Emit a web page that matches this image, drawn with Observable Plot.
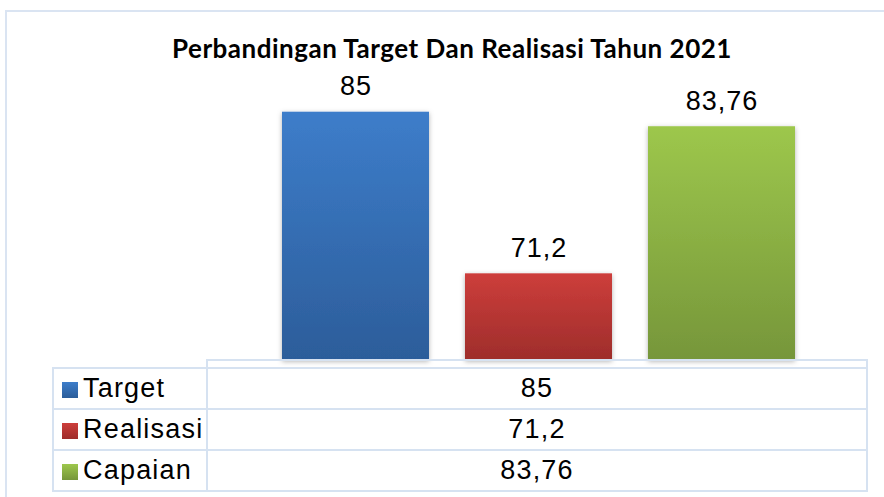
<!DOCTYPE html>
<html><head><meta charset="utf-8">
<script src="https://cdn.jsdelivr.net/npm/d3@7"></script>
<script src="https://cdn.jsdelivr.net/npm/@observablehq/plot@0.6"></script>
<style>
body{margin:0;background:#fff;width:884px;height:497px;overflow:hidden;position:relative;font-family:"Liberation Sans",Arial,sans-serif;}
#frame{position:absolute;left:5px;top:10px;width:900px;height:520px;border:2px solid #dae4f2;box-sizing:border-box;}
#title{position:absolute;left:0;width:904px;top:32px;text-align:center;font:700 26px Lato,sans-serif;letter-spacing:0.5px;color:#000;white-space:nowrap;}
#chart{position:absolute;left:0;top:0;}
#tbl{position:absolute;left:52px;top:359px;border-collapse:collapse;font:27px "Liberation Sans",Arial,sans-serif;letter-spacing:1.2px;color:#000;}
#tbl td{border:2px solid #d6e2f1;padding:0;}
#tbl td.lab{width:152px;white-space:nowrap;}
#tbl td.val{width:658px;text-align:center;}
#tbl tr.r{height:41px;}
.key{display:inline-block;width:16px;height:16px;margin:0 5px 0 8px;vertical-align:-1px;}
</style></head>
<body>
<div id="frame"></div>
<div id="chart"></div>
<div id="title"></div>
<table id="tbl"></table>
<script>
const titleText = "Perbandingan Target Dan Realisasi Tahun 2021";
const categories = ["Target", "Realisasi", "Capaian"];
const values = [85, 71.2, 83.76];
const colorsTop = ["#3d7dca", "#cd3e3b", "#9dc74c"];
const colorsBottom = ["#2c5d9a", "#9e2d2b", "#76963a"];
const yBase = 63.8;
const yTop = 86;

const fmt = v => String(v).replace(".", ",");
const data = categories.map((c, i) => ({category: c, value: values[i], fill: `url(#grad${i})`}));

const chart = Plot.plot({
  width: 884, height: 361,
  marginLeft: 282, marginRight: 89, marginTop: 100, marginBottom: 1,
  x: {domain: categories, paddingInner: 0.197, paddingOuter: 0, axis: null},
  y: {domain: [yBase, yTop], axis: null},
  color: {type: "identity"},
  style: {background: "transparent", overflow: "visible"},
  marks: [
    Plot.barY(data, {x: "category", y1: yBase, y2: "value", fill: "fill"}),
    Plot.text(data, {x: "category", y: "value", text: d => fmt(d.value), lineAnchor: "bottom", dy: -17,
      fontSize: 27, fontFamily: "Liberation Sans, Arial, sans-serif", fill: "#000"})
  ]
});
const svg = d3.select(chart);
const defs = svg.insert("defs", ":first-child");
categories.forEach((c, i) => {
  const g = defs.append("linearGradient").attr("id", `grad${i}`).attr("x1", 0).attr("y1", 0).attr("x2", 0).attr("y2", 1);
  g.append("stop").attr("offset", "0%").attr("stop-color", colorsTop[i]);
  g.append("stop").attr("offset", "100%").attr("stop-color", colorsBottom[i]);
});
const f = defs.append("filter").attr("id", "shadow").attr("x", "-20%").attr("y", "-20%").attr("width", "140%").attr("height", "140%");
f.append("feDropShadow").attr("dx", 0).attr("dy", 1.5).attr("stdDeviation", 2.5).attr("flood-color", "#000").attr("flood-opacity", 0.3);
svg.select('g[aria-label="bar"]').attr("filter", "url(#shadow)");
svg.selectAll('g[aria-label="text"] text').style("letter-spacing", "1px");
document.getElementById("chart").appendChild(chart);
document.getElementById("title").textContent = titleText;

const tbl = d3.select("#tbl");
const hdr = tbl.append("tr").style("height", "8px");
hdr.append("td").attr("class", "lab").style("border-top", "none").style("border-left", "none");
hdr.append("td").attr("class", "val");
categories.forEach((c, i) => {
  const tr = tbl.append("tr").attr("class", "r");
  const lab = tr.append("td").attr("class", "lab");
  lab.append("span").attr("class", "key").style("background", `linear-gradient(${colorsTop[i]}, ${colorsBottom[i]})`);
  lab.append("span").text(c);
  tr.append("td").attr("class", "val").text(fmt(values[i]));
});
</script>
</body></html>
